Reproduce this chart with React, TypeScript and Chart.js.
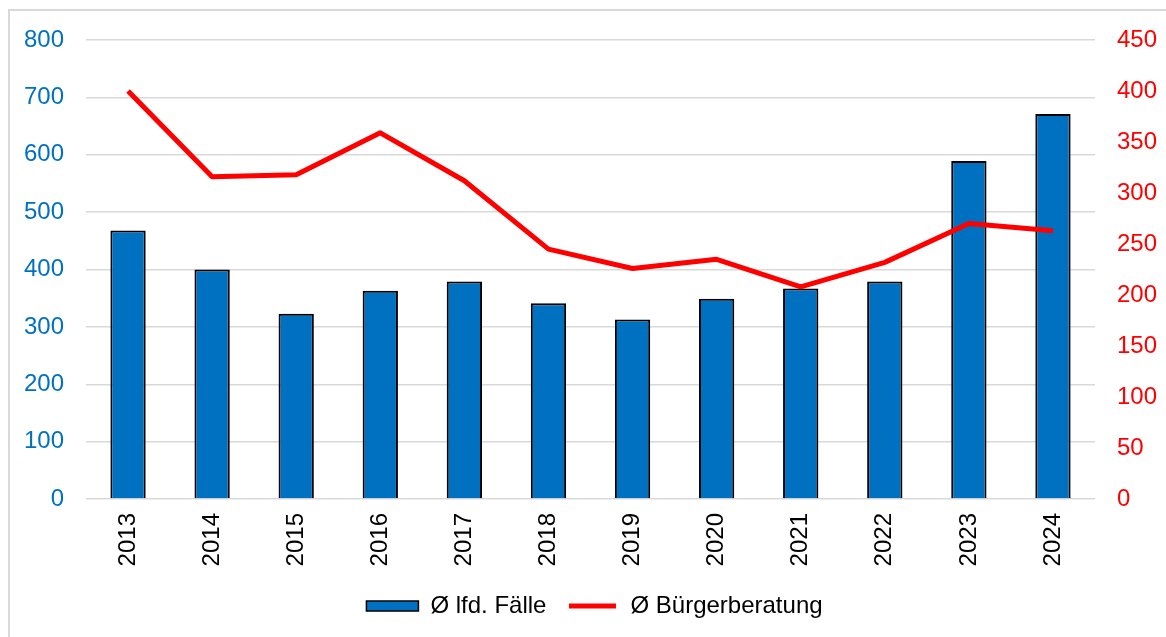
import React, { useEffect, useRef } from "react";
import { Chart, registerables } from "chart.js";

Chart.register(...registerables);

const years = ["2013", "2014", "2015", "2016", "2017", "2018", "2019", "2020", "2021", "2022", "2023", "2024"];
const faelle = [468, 400, 323, 363, 379, 341, 313, 349, 367, 379, 589, 671];
const beratung = [400, 316, 318, 359, 312, 245, 226, 235, 208, 232, 270, 263];
const seriesNames = ["Ø lfd. Fälle", "Ø Bürgerberatung"];

const BLUE = "#0070C0";
const RED = "#FF0000";
const GRID = "#d9d9d9";
const FONT = "'Liberation Sans', Arial, sans-serif";
const FS = 24;

export default function App() {
  const ref = useRef<HTMLCanvasElement | null>(null);

  useEffect(() => {
    if (!ref.current) return;
    const chart = new Chart(ref.current, {
      type: "bar",
      data: {
        labels: years,
        datasets: [
          {
            type: "bar",
            label: seriesNames[0],
            data: faelle,
            backgroundColor: BLUE,
            borderColor: "#000000",
            borderWidth: 2,
            categoryPercentage: 1,
            barPercentage: 0.42,
            yAxisID: "y",
            order: 1,
          },
          {
            type: "line",
            label: seriesNames[1],
            data: beratung,
            borderColor: RED,
            backgroundColor: RED,
            borderWidth: 5,
            pointRadius: 0,
            tension: 0,
            borderJoinStyle: "round",
            yAxisID: "y1",
            order: 0,
          },
        ],
      },
      options: {
        responsive: false,
        animation: false,
        layout: { padding: { top: 29, bottom: 9, left: 0, right: 0 } },
        font: { family: FONT, size: FS },
        plugins: {
          tooltip: { enabled: false },
          legend: {
            position: "bottom",
            labels: {
              font: { family: FONT, size: FS },
              color: "#000000",
              boxWidth: 52,
              boxHeight: 10,
              padding: 20,
              generateLabels: (c: any) => [
                {
                  text: seriesNames[0],
                  fillStyle: BLUE,
                  strokeStyle: "#000000",
                  lineWidth: 1.5,
                  datasetIndex: 0,
                  hidden: false,
                  fontColor: "#000000",
                },
                {
                  text: seriesNames[1],
                  fillStyle: RED,
                  strokeStyle: "#ffffff",
                  lineWidth: 5,
                  datasetIndex: 1,
                  hidden: false,
                  fontColor: "#000000",
                },
              ],
            },
          },
        },
        scales: {
          x: {
            grid: { display: false },
            border: { display: false },
            ticks: {
              color: "#000000",
              font: { family: FONT, size: FS },
              minRotation: 90,
              maxRotation: 90,
              padding: 6,
            },
            afterFit: (s: any) => {
              s.height = 75;
              s.paddingLeft = 0;
              s.paddingRight = 0;
            },
          },
          y: {
            position: "left",
            min: 0,
            max: 800,
            ticks: {
              stepSize: 100,
              color: BLUE,
              font: { family: FONT, size: FS },
              padding: 22,
            },
            grid: { color: GRID, lineWidth: 1.5, drawTicks: false },
            border: { display: false },
            afterFit: (s: any) => {
              s.width = 76;
              s.paddingTop = 0;
              s.paddingBottom = 0;
            },
          },
          y1: {
            position: "right",
            min: 0,
            max: 450,
            ticks: {
              stepSize: 50,
              color: RED,
              font: { family: FONT, size: FS },
              padding: 22,
            },
            grid: { display: false, drawTicks: false },
            border: { display: false },
            afterFit: (s: any) => {
              s.width = 84;
              s.paddingTop = 0;
              s.paddingBottom = 0;
            },
          },
        },
      },
    });
    return () => chart.destroy();
  }, []);

  return (
    <div
      style={{
        position: "fixed",
        left: 8,
        top: 9,
        right: 0,
        bottom: 0,
        borderTop: `2px solid ${GRID}`,
        borderLeft: `2px solid ${GRID}`,
        overflow: "hidden",
        background: "#ffffff",
      }}
    >
      <canvas ref={ref} width={1169} height={626} style={{ display: "block" }} />
    </div>
  );
}
